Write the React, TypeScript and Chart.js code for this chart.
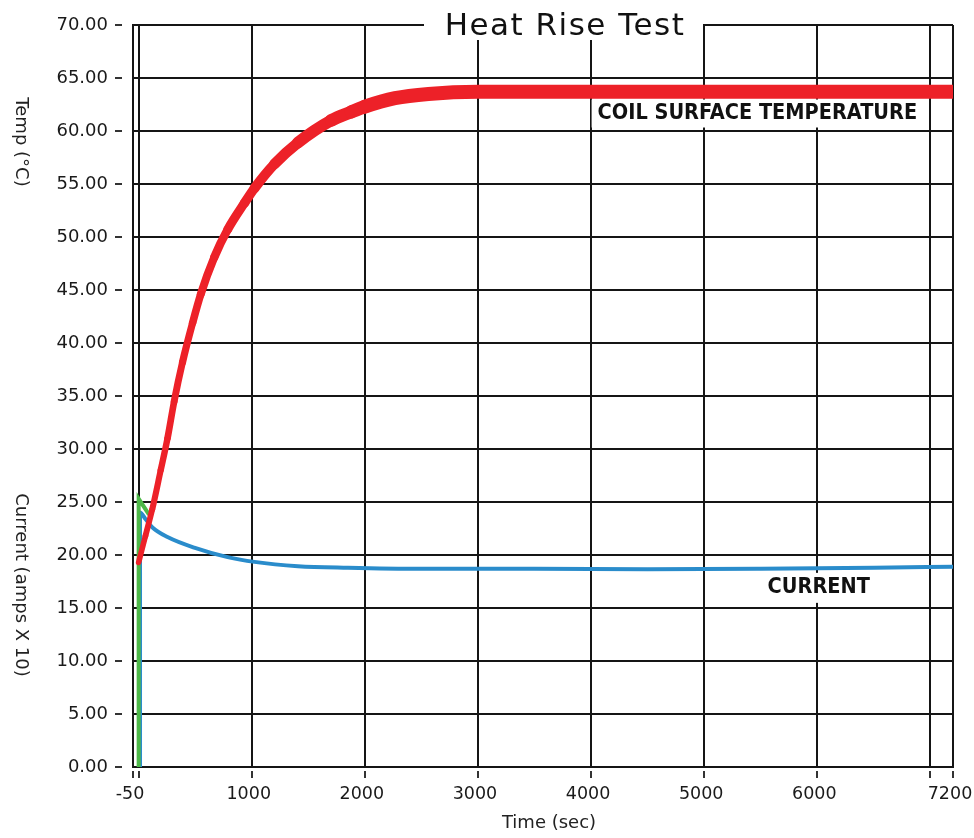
import React, { useEffect, useRef } from 'react';
import { Chart, registerables } from 'chart.js';

Chart.register(...registerables);

const chartTitle = 'Heat Rise Test';
const xAxisTitle = 'Time (sec)';
const tempAxisTitle = 'Temp (°C)';
const currentAxisTitle = 'Current (amps X 10)';
const tempLabel = 'COIL SURFACE TEMPERATURE';
const currentLabel = 'CURRENT';

const xMin = -50;
const xMax = 7200;
const xTickValues = [-50, 0, 1000, 2000, 3000, 4000, 5000, 6000, 7000, 7200];
const xTickLabels = ['-50', '', '1000', '2000', '3000', '4000', '5000', '6000', '', '7200'];
const yMin = 0;
const yMax = 70;
const yStep = 5;

const tempTime = [0, 60, 120, 195, 255, 314, 388, 477, 549, 669, 787, 935, 1024, 1202, 1408, 1703, 1880, 2000, 2266, 2562, 3000, 4000, 5000, 6000, 7200];
const tempValue = [19.3, 21.8, 24.3, 28.0, 31.0, 34.5, 38.2, 41.9, 44.6, 48.1, 50.7, 53.2, 54.6, 56.9, 58.9, 61.0, 61.8, 62.3, 63.1, 63.5, 63.7, 63.7, 63.7, 63.7, 63.7];

const currentTime = [12, 12, 60, 122, 255, 491, 787, 1024, 1408, 1850, 2500, 3500, 4500, 5500, 6500, 7200];
const currentValue = [0, 24.0, 23.4, 22.6, 21.7, 20.7, 19.8, 19.35, 18.95, 18.8, 18.7, 18.7, 18.65, 18.7, 18.8, 18.9];

const inrushTime = [0, 0, 92];
const inrushValue = [0, 25.3, 23.8];

const FONT = "'DejaVu Sans', Verdana, sans-serif";
const LABEL_FONT = "'DejaVu Sans Condensed', 'DejaVu Sans', sans-serif";

const toPoints = (xs: number[], ys: number[]) => xs.map((x, i) => ({ x, y: ys[i] }));

const decorPlugin = {
  id: 'decor',
  beforeDatasetsDraw(chart: any) {
    const { ctx, scales } = chart;
    const xs = scales.x;
    const ys = scales.y;
    ctx.save();
    // title box breaking the frame
    ctx.fillStyle = '#ffffff';
    ctx.fillRect(424, 0, 279, 40);
    ctx.fillStyle = '#111';
    ctx.font = `31px ${FONT}`;
    try { (ctx as any).letterSpacing = '1.5px'; } catch (e) {}
    ctx.textAlign = 'center';
    ctx.textBaseline = 'alphabetic';
    ctx.fillText(chartTitle, 565, 35);
    try { (ctx as any).letterSpacing = '0px'; } catch (e) {}

    // series labels with white backing
    ctx.font = `bold 21.5px ${LABEL_FONT}`;
    ctx.textBaseline = 'middle';
    ctx.textAlign = 'right';
    const tx = xs.getPixelForValue(6883);
    const ty = ys.getPixelForValue(61.65);
    const tw = ctx.measureText(tempLabel).width;
    ctx.fillStyle = '#ffffff';
    ctx.fillRect(tx - tw - 6, ty - 14, tw + 12, 28);
    ctx.fillStyle = '#111';
    ctx.fillText(tempLabel, tx, ty);

    ctx.textAlign = 'center';
    const cx = xs.getPixelForValue(6013);
    const cy = ys.getPixelForValue(16.9);
    const cw = ctx.measureText(currentLabel).width;
    ctx.fillStyle = '#ffffff';
    ctx.fillRect(cx - cw / 2 - 6, cy - 15, cw + 12, 30);
    ctx.fillStyle = '#111';
    ctx.fillText(currentLabel, cx, cy);
    ctx.restore();
  },
  afterDraw(chart: any) {
    const { ctx } = chart;
    ctx.save();
    ctx.fillStyle = '#222';
    ctx.font = `18px ${FONT}`;
    ctx.textAlign = 'center';
    ctx.textBaseline = 'middle';
    ctx.fillText(xAxisTitle, 549, 823);
    ctx.translate(21, 142);
    ctx.rotate(Math.PI / 2);
    ctx.fillText(tempAxisTitle, 0, 0);
    ctx.restore();
    ctx.save();
    ctx.fillStyle = '#222';
    ctx.font = `18px ${FONT}`;
    ctx.textAlign = 'center';
    ctx.textBaseline = 'middle';
    ctx.translate(21, 585);
    ctx.rotate(Math.PI / 2);
    ctx.fillText(currentAxisTitle, 0, 0);
    ctx.restore();
  },
};

export default function App() {
  const ref = useRef<HTMLCanvasElement>(null);
  useEffect(() => {
    const canvas = ref.current;
    if (!canvas) return;
    const chart = new Chart(canvas, {
      type: 'line',
      data: {
        datasets: [
          {
            label: tempLabel,
            data: toPoints(tempTime, tempValue),
            borderColor: '#ED2128',
            backgroundColor: '#ED2128',
            borderWidth: 14,
            borderCapStyle: 'round',
            borderJoinStyle: 'round',
            pointRadius: 0,
            cubicInterpolationMode: 'monotone',
            segment: {
              borderWidth: (c: any) => {
                const t = (c.p0.parsed.x + c.p1.parsed.x) / 2;
                return 5.5 + 8.5 * Math.min(1, Math.max(0, t) / 2100);
              },
            },
          } as any,
          {
            label: 'Inrush',
            data: toPoints(inrushTime, inrushValue),
            borderColor: '#4DB848',
            borderWidth: 4,
            pointRadius: 0,
            tension: 0,
          },
          {
            label: currentLabel,
            data: toPoints(currentTime, currentValue),
            borderColor: '#2A8CCB',
            borderWidth: 4,
            pointRadius: 0,
            cubicInterpolationMode: 'monotone',
          },
        ],
      },
      options: {
        responsive: false,
        animation: false,
        devicePixelRatio: 1,
        layout: { padding: { top: 25, right: 21, bottom: 0, left: 0 } },
        plugins: {
          legend: { display: false },
          title: { display: false },
          tooltip: { enabled: false },
        },
        scales: {
          x: {
            type: 'linear',
            min: xMin,
            max: xMax,
            afterBuildTicks: (s: any) => {
              s.ticks = xTickValues.map((v) => ({ value: v }));
            },
            afterFit: (s: any) => {
              s.height = 71;
              s.paddingLeft = 0;
              s.paddingRight = 0;
            },
            grid: {
              color: '#151515',
              lineWidth: 2,
              tickLength: 11,
              tickColor: '#333',
              tickWidth: 2,
              tickBorderDash: [0, 3, 8, 30],
            },
            border: { display: true, color: '#151515', width: 2 },
            ticks: {
              autoSkip: false,
              maxRotation: 0,
              minRotation: 0,
              padding: 6,
              labelOffset: -3,
              color: '#1a1a1a',
              font: { family: FONT, size: 17.5 },
              callback: (_v: any, i: number) => xTickLabels[i],
            },
          },
          y: {
            type: 'linear',
            min: yMin,
            max: yMax,
            afterFit: (s: any) => {
              s.width = 133;
              s.paddingTop = 0;
              s.paddingBottom = 0;
            },
            grid: {
              color: '#151515',
              lineWidth: 2,
              tickLength: 18,
              tickColor: '#333',
              tickWidth: 2,
              tickBorderDash: [7, 30],
            },
            border: { display: true, color: '#151515', width: 2 },
            ticks: {
              stepSize: yStep,
              padding: 7,
              color: '#1a1a1a',
              font: { family: FONT, size: 18 },
              callback: (v: any) => Number(v).toFixed(2),
            },
          },
        },
      } as any,
      plugins: [decorPlugin],
    });
    return () => chart.destroy();
  }, []);
  return (
    <div style={{ position: 'absolute', left: 0, top: 0, width: 974, height: 838, background: '#fff' }}>
      <canvas ref={ref} width={974} height={838} style={{ display: 'block', width: 974, height: 838 }} />
    </div>
  );
}
